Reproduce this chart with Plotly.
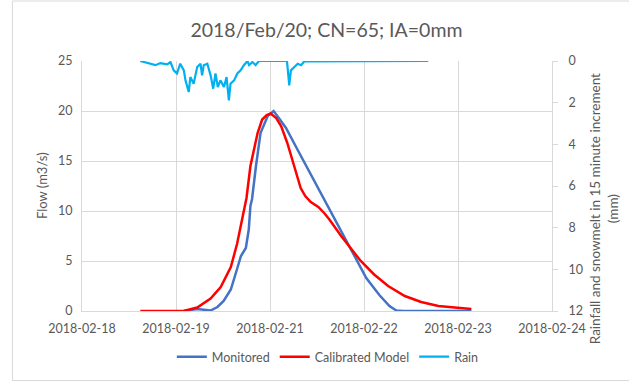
import pandas as pd
import plotly.graph_objects as go

# Times are hours after 2018-02-19 00:00
BASE = pd.Timestamp("2018-02-19 00:00")

monitored_hours = [21.6, 25.7, 29.8, 31.9, 33.8, 36.0, 37.4, 39.1, 40.6, 41.5, 42.0, 42.5,
                   43.7, 45.1, 47.3, 49.1, 50.7, 52.9, 56.0, 59.0, 62.1, 65.2, 68.3,
                   71.3, 74.4, 77.5, 81.5, 84.6, 86.7, 88.8, 109.7]
monitored_flow = [0.0, 0.2, 0.05, 0.4, 1.0, 2.15, 3.65, 5.5, 6.3, 8.15, 10.5, 11.2,
                  14.5, 17.8, 19.5, 20.0, 19.3, 18.3, 16.4, 14.55, 12.7, 10.8, 8.9,
                  7.05, 5.1, 3.3, 1.6, 0.5, 0.05, 0.0, 0.0]

model_hours = [8.25, 21.5, 25.7, 29.8, 32.9, 36.0, 37.9, 39.6, 40.8, 42.0, 44.2, 45.6,
               47.0, 48.2, 49.9, 51.4, 53.3, 55.4, 57.4, 58.8, 60.5, 62.8, 64.6, 66.2,
               69.8, 75.8, 79.9, 84.2, 89.3, 94.3, 99.6, 104.6, 109.7]
model_flow = [0.0, 0.0, 0.35, 1.24, 2.4, 4.4, 6.7, 9.5, 11.3, 14.5, 17.8, 19.15,
              19.6, 19.75, 19.3, 18.5, 16.8, 14.5, 12.3, 11.5, 10.9, 10.4, 9.8, 9.15,
              7.5, 5.0, 3.65, 2.5, 1.5, 0.9, 0.5, 0.35, 0.2]

rain_hours = [8.25, 11.3, 12.9, 14.4, 16.5, 17.5, 18.5, 19.5, 20.5, 21.6, 22.1, 23.1,
              23.6, 24.6, 25.7, 26.7, 27.2, 27.7, 28.8, 29.8, 30.6, 31.3, 32.0, 32.8,
              33.9, 34.7, 35.4, 35.9, 37.0, 38.0, 39.0, 40.0, 41.1, 41.6, 42.6, 43.6,
              44.6, 53.2, 53.9, 54.4, 55.4, 56.5, 57.5, 58.5, 96.5]
rain_mm = [0.0, 0.13, 0.2, 0.1, 0.16, 0.05, 0.45, 0.6, 0.13, 0.45, 0.93, 1.49,
           0.77, 1.09, 0.29, 0.13, 0.69, 0.2, 0.13, 0.69, 1.33, 0.6, 1.25, 0.93,
           1.25, 0.77, 1.89, 1.09, 0.93, 0.6, 0.45, 0.2, 0.0, 0.2, 0.05, 0.2,
           0.0, 0.0, 1.17, 0.45, 0.29, 0.13, 0.2, 0.02, 0.0]


def to_time(hours):
    return [BASE + pd.Timedelta(hours=h) for h in hours]


TEXT = "#595959"
GRID = "#D9D9D9"
FONT = "Lato"

fig = go.Figure()
fig.add_trace(go.Scatter(x=to_time(monitored_hours), y=monitored_flow, name="Monitored",
                         mode="lines", line=dict(color="#4472C4", width=2.5)))
fig.add_trace(go.Scatter(x=to_time(model_hours), y=model_flow, name="Calibrated Model",
                         mode="lines", line=dict(color="#FF0000", width=2.5)))
fig.add_trace(go.Scatter(x=to_time(rain_hours), y=rain_mm, name="Rain", yaxis="y2",
                         mode="lines", line=dict(color="#00B0F0", width=2.2)))

fig.update_layout(
    width=629, height=384,
    margin=dict(l=82, r=77, t=61, b=73),
    paper_bgcolor="white", plot_bgcolor="white",
    font=dict(family=FONT, size=12.5, color=TEXT),
    title=dict(text="2018/Feb/20; CN=65; IA=0mm", x=0.519, xref="container",
               xanchor="center", y=0.922, yref="container", yanchor="middle",
               font=dict(family=FONT, size=19.5, color=TEXT)),
    xaxis=dict(type="date",
               range=["2018-02-18 14:24", "2018-02-24 14:24"],
               tick0="2018-02-18 14:24", dtick=1.2 * 86400000,
               tickformat="%Y-%m-%d", showgrid=True, gridcolor=GRID,
               showline=True, linecolor=GRID, linewidth=1, ticks="",
               ticklabelstandoff=6,
               zeroline=False, tickfont=dict(size=12.5, color=TEXT)),
    yaxis=dict(range=[0, 25], dtick=5, showgrid=True, gridcolor=GRID,
               showline=True, linecolor=GRID, zeroline=False, ticks="",
               ticklabelstandoff=6,
               tickfont=dict(size=12.5, color=TEXT)),
    yaxis2=dict(range=[12, 0], dtick=2, overlaying="y", side="right",
                showgrid=False, showline=True, linecolor=GRID, zeroline=False,
                ticks="outside", ticklen=5, tickcolor=GRID,
                ticklabelstandoff=8,
                tickfont=dict(size=12.5, color=TEXT)),
    legend=dict(orientation="h", x=0.523, xanchor="center", y=-0.184,
                yanchor="middle", font=dict(size=12.5, color=TEXT),
                itemwidth=30, bgcolor="rgba(0,0,0,0)"),
    showlegend=True,
)

# Axis titles
fig.add_annotation(text="Flow (m3/s)", xref="paper", yref="paper",
                   x=-0.085, y=0.5, xanchor="center", yanchor="middle",
                   textangle=-90, showarrow=False,
                   font=dict(size=13, color=TEXT))
fig.add_annotation(text="Rainfall and snowmelt in 15 minute increment<br>(mm)",
                   xref="paper", yref="paper", x=1.11, y=0.41,
                   xanchor="center", yanchor="middle", textangle=-90,
                   showarrow=False, font=dict(size=13.5, color=TEXT))

# Chart area border
fig.add_shape(type="rect", xref="paper", yref="paper",
              x0=-0.148, x1=1.25, y0=-0.278, y1=1.24,
              line=dict(color=GRID, width=1), fillcolor="rgba(0,0,0,0)", layer="below")

fig.write_html("out.html")
